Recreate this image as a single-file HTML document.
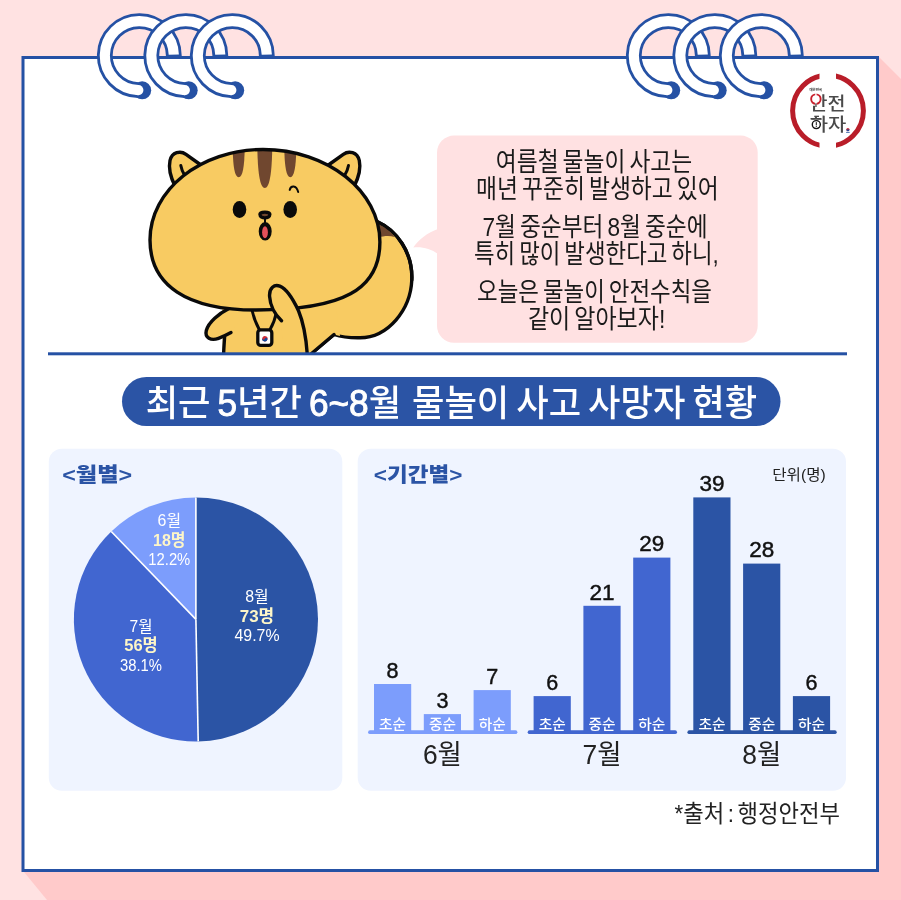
<!DOCTYPE html>
<html lang="ko"><head><meta charset="utf-8"><title>물놀이 안전수칙</title>
<style>
html,body{margin:0;padding:0;background:#ffe2e2;}
body{width:901px;height:900px;overflow:hidden;}
svg{display:block;}
text{font-family:"Liberation Sans","Noto Sans CJK KR","NanumGothic",sans-serif;}
</style></head><body>
<svg width="901" height="900" viewBox="0 0 901 900">
<rect width="901" height="900" fill="#ffe2e2"/>
<polygon points="879,57 901,79 901,900 47,900 24,872" fill="#ffcaca"/>
<rect x="23" y="57.5" width="854.5" height="813" fill="#fff" stroke="#2551a4" stroke-width="3"/>

<path d="M 173.80 57.50 L 173.80 55.60 A 34.5 34.5 0 1 0 138.34 90.09" fill="none" stroke="#2551a4" stroke-width="15.8" stroke-linecap="butt"/><circle cx="142.20" cy="90.30" r="9" fill="#2551a4"/><path d="M 173.80 54.7 A 34.5 34.5 0 1 0 138.34 90.09" fill="none" stroke="#fff" stroke-width="10.2"/><circle cx="138.34" cy="90.09" r="5.1" fill="#fff"/>
<path d="M 220.30 57.50 L 220.30 55.60 A 34.5 34.5 0 1 0 184.84 90.09" fill="none" stroke="#2551a4" stroke-width="15.8" stroke-linecap="butt"/><circle cx="188.70" cy="90.30" r="9" fill="#2551a4"/><path d="M 220.30 54.7 A 34.5 34.5 0 1 0 184.84 90.09" fill="none" stroke="#fff" stroke-width="10.2"/><circle cx="184.84" cy="90.09" r="5.1" fill="#fff"/>
<path d="M 266.80 57.50 L 266.80 55.60 A 34.5 34.5 0 1 0 231.34 90.09" fill="none" stroke="#2551a4" stroke-width="15.8" stroke-linecap="butt"/><circle cx="235.20" cy="90.30" r="9" fill="#2551a4"/><path d="M 266.80 54.7 A 34.5 34.5 0 1 0 231.34 90.09" fill="none" stroke="#fff" stroke-width="10.2"/><circle cx="231.34" cy="90.09" r="5.1" fill="#fff"/>
<path d="M 702.80 57.50 L 702.80 55.60 A 34.5 34.5 0 1 0 667.34 90.09" fill="none" stroke="#2551a4" stroke-width="15.8" stroke-linecap="butt"/><circle cx="671.20" cy="90.30" r="9" fill="#2551a4"/><path d="M 702.80 54.7 A 34.5 34.5 0 1 0 667.34 90.09" fill="none" stroke="#fff" stroke-width="10.2"/><circle cx="667.34" cy="90.09" r="5.1" fill="#fff"/>
<path d="M 749.30 57.50 L 749.30 55.60 A 34.5 34.5 0 1 0 713.84 90.09" fill="none" stroke="#2551a4" stroke-width="15.8" stroke-linecap="butt"/><circle cx="717.70" cy="90.30" r="9" fill="#2551a4"/><path d="M 749.30 54.7 A 34.5 34.5 0 1 0 713.84 90.09" fill="none" stroke="#fff" stroke-width="10.2"/><circle cx="713.84" cy="90.09" r="5.1" fill="#fff"/>
<path d="M 795.80 57.50 L 795.80 55.60 A 34.5 34.5 0 1 0 760.34 90.09" fill="none" stroke="#2551a4" stroke-width="15.8" stroke-linecap="butt"/><circle cx="764.20" cy="90.30" r="9" fill="#2551a4"/><path d="M 795.80 54.7 A 34.5 34.5 0 1 0 760.34 90.09" fill="none" stroke="#fff" stroke-width="10.2"/><circle cx="760.34" cy="90.09" r="5.1" fill="#fff"/>
<g id="logo">
<clipPath id="lgL"><rect x="780" y="60" width="39.5" height="100"/></clipPath><clipPath id="lgR"><rect x="836" y="60" width="44" height="100"/></clipPath>
<circle cx="828" cy="110.7" r="35.4" fill="none" stroke="#b91d29" stroke-width="5" clip-path="url(#lgL)"/>
<circle cx="828" cy="110.7" r="35.4" fill="none" stroke="#b91d29" stroke-width="5" clip-path="url(#lgR)"/>
<text x="815.7" y="91" font-size="3.4" font-weight="700" fill="#222" text-anchor="middle">대한민국</text>
<text x="809.6" y="110.2" font-size="18.5" font-weight="500" fill="#4a4a4a" textLength="36" lengthAdjust="spacingAndGlyphs">안전</text>
<text x="809.8" y="131" font-size="18.5" font-weight="500" fill="#4a4a4a" textLength="36.5" lengthAdjust="spacingAndGlyphs">하자</text>
<circle cx="815.9" cy="99.1" r="6.3" fill="#fff"/>
<clipPath id="mgL"><rect x="808" y="92" width="7.25" height="14"/></clipPath><clipPath id="mgR"><rect x="816.55" y="92" width="8" height="14"/></clipPath>
<circle cx="815.9" cy="99.1" r="4.75" fill="none" stroke="#c8202c" stroke-width="1.9" clip-path="url(#mgL)"/><circle cx="815.9" cy="99.1" r="4.75" fill="none" stroke="#c8202c" stroke-width="1.9" clip-path="url(#mgR)"/>
<rect x="815.3" y="103.5" width="1.3" height="3.5" fill="#4a4a4a"/>
<circle cx="816.3" cy="124.6" r="5.4" fill="#fff"/><circle cx="816.3" cy="124.6" r="4" fill="#fff" stroke="#111" stroke-width="1.4"/><rect x="815.8" y="122.1" width="1" height="3.3" fill="#111"/><rect x="815.8" y="126.1" width="1" height="1" fill="#111"/>
<rect x="811.3" y="118.4" width="10.4" height="1.3" fill="#4a4a4a"/><rect x="814.3" y="115.7" width="4.7" height="1.3" fill="#4a4a4a"/>
<circle cx="847.9" cy="129.6" r="1.6" fill="#c8202c"/><path d="M 846.3 129.6 a 1.6 1.6 0 0 0 3.2 0 z" fill="#1d4a9c"/><rect x="846.1" y="131.9" width="3.6" height="0.8" fill="#1d4a9c"/>
</g>
<defs><clipPath id="sqclip"><rect x="100" y="100" width="340" height="254"/></clipPath>
<clipPath id="headclip"><path d="M 263 149.5 C 327.6 149.5 379.9 191 379.9 242 C 379.9 289.6 342.8 310 256 310 C 187 310 150 285.5 150 240 C 150 190 200.6 149.5 263 149.5 Z"/></clipPath></defs>
<g clip-path="url(#sqclip)" stroke-linecap="round" stroke-linejoin="round">
<path d="M 378 222 C 396 230 413 252 411.8 280 C 410.5 310 388 337.5 360 337.8 C 350 338 340 336.5 334 334.5 L 312 353 L 300 360 L 300 300 Z" fill="#f8cb62" stroke="#0a0a0a" stroke-width="3.4"/>
<path d="M 377 223 C 386 227.5 391.5 232 394.5 237 C 390 235.5 384 235.8 378 237.5 Z" fill="#70472f"/>
<path d="M 378 222 C 396 230 413 252 411.8 280" fill="none" stroke="#0a0a0a" stroke-width="3.4"/>
<path d="M 222 305 L 335 300 L 340 336 L 334 334.5 L 312 353 L 312 360 L 223 360 Z" fill="#f8cb62"/>
<path d="M 334 334.5 L 311 354" fill="none" stroke="#0a0a0a" stroke-width="3.4"/>
<path d="M 232 305 C 220 312 208.5 322 206.3 330.5 C 204.5 338 211 341 218.5 338.3 C 224 336.3 228 334.3 231 332.6 L 240 320 Z" fill="#f8cb62" stroke="none"/>
<path d="M 229 308.5 C 219 313.5 208.5 322 206.3 330.5 C 204.5 338 211 341 218.5 338.3 C 224 336.3 228 334.3 231 332.6" fill="none" stroke="#0a0a0a" stroke-width="3.4"/>
<path d="M 224.6 337 C 224.2 343 223.8 348 223.5 356" fill="none" stroke="#0a0a0a" stroke-width="3.4"/>
<path d="M 252 310 C 253.5 317 256 323.5 259 329 M 276.3 313 C 275 319 273 324.5 270.3 329" fill="none" stroke="#0a0a0a" stroke-width="3"/>
<rect x="257.8" y="329.8" width="14" height="15.6" rx="3" fill="#fff" stroke="#0a0a0a" stroke-width="3.3"/>
<g transform="rotate(20 264.9 338.7)"><circle cx="264.9" cy="338.7" r="2.7" fill="#cd2e3a"/><path d="M 262.2 338.7 a 2.7 2.7 0 0 0 5.4 0 a 1.35 1.35 0 0 0 -2.7 0 a 1.35 1.35 0 0 1 -2.7 0 z" fill="#0f4ea0"/></g>
<path d="M 175 186 C 170.5 177 168.6 167 170 160.5 C 172 152 180.5 150.3 186 154.3 L 203 166.5 L 190 185 Z" fill="#f8cb62" stroke="#0a0a0a" stroke-width="3.4"/>
<path d="M 180.8 165.6 C 181.5 169.5 183 173 184.8 175.6" fill="none" stroke="#0a0a0a" stroke-width="3"/>
<g transform="translate(529.3 0) scale(-1 1)"><path d="M 175 186 C 170.5 177 168.6 167 170 160.5 C 172 152 180.5 150.3 186 154.3 L 203 166.5 L 190 185 Z" fill="#f8cb62" stroke="#0a0a0a" stroke-width="3.4"/><path d="M 180.8 165.6 C 181.5 169.5 183 173 184.8 175.6" fill="none" stroke="#0a0a0a" stroke-width="3"/></g>
<path d="M 263 149.5 C 327.6 149.5 379.9 191 379.9 242 C 379.9 289.6 342.8 310 256 310 C 187 310 150 285.5 150 240 C 150 190 200.6 149.5 263 149.5 Z" fill="#f8cb62"/>
<g clip-path="url(#headclip)">
<path d="M 232.6 140 L 244.8 140 C 244.8 163.2 243.29999999999998 177.2 238.7 177.2 C 234.1 177.2 232.6 163.2 232.6 140 Z" fill="#70472f"/>
<path d="M 257.3 140 L 272.3 140 C 272.3 174 269.40000000000003 188 264.8 188 C 260.2 188 257.3 174 257.3 140 Z" fill="#70472f"/>
<path d="M 284.2 140 L 296.4 140 C 296.4 163.2 294.9 177.2 290.29999999999995 177.2 C 285.69999999999993 177.2 284.2 163.2 284.2 140 Z" fill="#70472f"/>
</g>
<path d="M 263 149.5 C 327.6 149.5 379.9 191 379.9 242 C 379.9 289.6 342.8 310 256 310 C 187 310 150 285.5 150 240 C 150 190 200.6 149.5 263 149.5 Z" fill="none" stroke="#0a0a0a" stroke-width="3.4"/>
<ellipse cx="239.5" cy="209.4" rx="6.8" ry="8.5" fill="#0a0a0a"/><ellipse cx="290.2" cy="209.4" rx="6.8" ry="8.5" fill="#0a0a0a"/>
<path d="M 289.7 189.9 C 290.8 185.3 296.3 184.8 298.2 192" fill="none" stroke="#0a0a0a" stroke-width="2"/>
<path d="M 259.9 214.3 C 259.9 211.4 269.9 211.4 269.9 214.3 C 269.9 216.7 267.3 217.9 264.9 217.9 C 262.5 217.9 259.9 216.7 259.9 214.3 Z" fill="#70472f" stroke="#0a0a0a" stroke-width="3.3"/>
<path d="M 265 218.5 L 265 223" stroke="#0a0a0a" stroke-width="2" fill="none"/>
<ellipse cx="265.2" cy="231.3" rx="5.4" ry="8.2" fill="#0a0a0a" stroke="#0a0a0a" stroke-width="2.2"/>
<ellipse cx="265" cy="232.2" rx="2.9" ry="6" fill="#e4505a"/>
<path d="M 281.5 320.8 C 275.5 315 270.2 306 269.6 296.5 C 269 287.5 274.5 284.2 279.8 286.2 C 286 288.7 293 299 298.6 311 C 304 324 306.5 340 307.5 358 L 283 358 Z" fill="#f8cb62"/>
<path d="M 281.5 320.8 C 275.5 315 270.2 306 269.6 296.5 C 269 287.5 274.5 284.2 279.8 286.2 C 286 288.7 293 299 298.6 311 C 304 324 306.5 340 307.5 358" fill="none" stroke="#0a0a0a" stroke-width="3.4"/>
</g>
<rect x="437" y="135.6" width="320.7" height="207.2" rx="17" fill="#ffe1e2"/>
<path d="M 438 228.9 C 428 232 418 240 413.3 247.6 C 422 246.5 431 249 438 254 Z" fill="#ffe1e2"/>
<text x="594.0" y="170.8" font-size="26" font-weight="400" fill="#1a1a1a" text-anchor="middle" word-spacing="-2.6" textLength="196.4" lengthAdjust="spacingAndGlyphs">여름철 물놀이 사고는</text>
<text x="597.4" y="197.8" font-size="26" font-weight="400" fill="#1a1a1a" text-anchor="middle" word-spacing="-2.6" textLength="242.7" lengthAdjust="spacingAndGlyphs">매년 꾸준히 발생하고 있어</text>
<text x="595.0" y="235.8" font-size="26" font-weight="400" fill="#1a1a1a" text-anchor="middle" word-spacing="-2.6" textLength="225.0" lengthAdjust="spacingAndGlyphs">7월 중순부터 8월 중순에</text>
<text x="596.4" y="262.8" font-size="26" font-weight="400" fill="#1a1a1a" text-anchor="middle" word-spacing="-2.6" textLength="244.8" lengthAdjust="spacingAndGlyphs">특히 많이 발생한다고 하니,</text>
<text x="594.5" y="300.8" font-size="26" font-weight="400" fill="#1a1a1a" text-anchor="middle" word-spacing="-2.6" textLength="235.0" lengthAdjust="spacingAndGlyphs">오늘은 물놀이 안전수칙을</text>
<text x="596.6" y="327.8" font-size="26" font-weight="400" fill="#1a1a1a" text-anchor="middle" word-spacing="-2.6" textLength="137.4" lengthAdjust="spacingAndGlyphs">같이 알아보자!</text>
<rect x="48" y="352.3" width="799" height="3" fill="#2551a4"/>
<rect x="122" y="377" width="658.5" height="49" rx="24.5" fill="#2b54a5"/>
<text x="451.4" y="415.5" font-size="36.5" font-weight="500" fill="#fff" text-anchor="middle" word-spacing="-3" textLength="611.5" lengthAdjust="spacingAndGlyphs">최근 <tspan stroke="#fff" stroke-width="0.9">5</tspan>년간 <tspan stroke="#fff" stroke-width="0.9">6~8</tspan>월 <tspan dx="4">물놀이</tspan> 사고 사망자 현황</text>
<rect x="48.8" y="448.7" width="293.5" height="342" rx="13" fill="#eff4ff"/>
<rect x="357.7" y="448.7" width="488.3" height="342" rx="13" fill="#eff4ff"/>
<text x="62.2" y="482" font-size="20.5" font-weight="900" fill="#2b54a5" textLength="70" lengthAdjust="spacingAndGlyphs">&lt;월별&gt;</text>
<text x="373.8" y="482" font-size="20.5" font-weight="900" fill="#2b54a5" textLength="88.5" lengthAdjust="spacingAndGlyphs">&lt;기간별&gt;</text>
<path d="M 195.9 619.4 L 195.90 497.40 A 122.0 122.0 0 0 1 198.20 741.38 Z" fill="#2b54a5"/>
<path d="M 195.9 619.4 L 198.20 741.38 A 122.0 122.0 0 0 1 111.27 531.52 Z" fill="#4166d0"/>
<path d="M 195.9 619.4 L 111.27 531.52 A 122.0 122.0 0 0 1 195.90 497.40 Z" fill="#7c9dfc"/>
<line x1="195.9" y1="619.4" x2="195.90" y2="497.40" stroke="#fff" stroke-width="1.6"/>
<line x1="195.9" y1="619.4" x2="198.20" y2="741.38" stroke="#fff" stroke-width="1.6"/>
<line x1="195.9" y1="619.4" x2="111.27" y2="531.52" stroke="#fff" stroke-width="1.6"/>
<text x="169.3" y="526.3" font-size="16" font-weight="400" fill="#fff" text-anchor="middle" textLength="23.5" lengthAdjust="spacingAndGlyphs">6월</text><text x="169.3" y="545.9" font-size="17" font-weight="700" fill="#fdf6c8" text-anchor="middle" textLength="32.5" lengthAdjust="spacingAndGlyphs">18명</text><text x="169.3" y="565.3" font-size="16" font-weight="400" fill="#fff" text-anchor="middle" textLength="42" lengthAdjust="spacingAndGlyphs">12.2%</text>
<text x="257" y="602.3" font-size="16" font-weight="400" fill="#fff" text-anchor="middle" textLength="23.5" lengthAdjust="spacingAndGlyphs">8월</text><text x="257" y="621.9" font-size="17" font-weight="700" fill="#fdf6c8" text-anchor="middle" textLength="34.5" lengthAdjust="spacingAndGlyphs">73명</text><text x="257" y="641.3" font-size="16" font-weight="400" fill="#fff" text-anchor="middle" textLength="45" lengthAdjust="spacingAndGlyphs">49.7%</text>
<text x="141" y="631.7" font-size="16" font-weight="400" fill="#fff" text-anchor="middle" textLength="23" lengthAdjust="spacingAndGlyphs">7월</text><text x="141" y="651.3000000000001" font-size="17" font-weight="700" fill="#fdf6c8" text-anchor="middle" textLength="33.5" lengthAdjust="spacingAndGlyphs">56명</text><text x="141" y="670.7" font-size="16" font-weight="400" fill="#fff" text-anchor="middle" textLength="42" lengthAdjust="spacingAndGlyphs">38.1%</text>
<text x="799" y="480" font-size="14.5" font-weight="400" fill="#222" text-anchor="middle" textLength="53.5" lengthAdjust="spacingAndGlyphs">단위(명)</text>
<line x1="370" y1="732.2" x2="515.5" y2="732.2" stroke="#7c9dfc" stroke-width="3.8" stroke-linecap="round"/>
<rect x="374.0" y="684.0" width="37.2" height="48.2" fill="#7c9dfc"/>
<text x="392.6" y="729.3" font-size="14" font-weight="500" fill="#fff" text-anchor="middle" textLength="27" lengthAdjust="spacingAndGlyphs">초순</text>
<text x="392.6" y="677.8" font-size="22" font-weight="500" fill="#111" stroke="#111" stroke-width="0.45" text-anchor="middle" textLength="12" lengthAdjust="spacingAndGlyphs">8</text>
<rect x="423.8" y="714.1" width="37.2" height="18.1" fill="#7c9dfc"/>
<text x="442.4" y="729.3" font-size="14" font-weight="500" fill="#fff" text-anchor="middle" textLength="27" lengthAdjust="spacingAndGlyphs">중순</text>
<text x="442.4" y="707.9" font-size="22" font-weight="500" fill="#111" stroke="#111" stroke-width="0.45" text-anchor="middle" textLength="12" lengthAdjust="spacingAndGlyphs">3</text>
<rect x="473.6" y="690.1" width="37.2" height="42.1" fill="#7c9dfc"/>
<text x="492.2" y="729.3" font-size="14" font-weight="500" fill="#fff" text-anchor="middle" textLength="27" lengthAdjust="spacingAndGlyphs">하순</text>
<text x="492.2" y="683.9" font-size="22" font-weight="500" fill="#111" stroke="#111" stroke-width="0.45" text-anchor="middle" textLength="12" lengthAdjust="spacingAndGlyphs">7</text>
<text x="442.4" y="764.2" font-size="27" font-weight="400" fill="#222" text-anchor="middle" textLength="39" lengthAdjust="spacingAndGlyphs">6월</text>
<line x1="529.6" y1="732.2" x2="675.1" y2="732.2" stroke="#4166d0" stroke-width="3.8" stroke-linecap="round"/>
<rect x="533.6" y="696.1" width="37.2" height="36.1" fill="#4166d0"/>
<text x="552.2" y="729.3" font-size="14" font-weight="500" fill="#fff" text-anchor="middle" textLength="27" lengthAdjust="spacingAndGlyphs">초순</text>
<text x="552.2" y="689.9" font-size="22" font-weight="500" fill="#111" stroke="#111" stroke-width="0.45" text-anchor="middle" textLength="12" lengthAdjust="spacingAndGlyphs">6</text>
<rect x="583.4" y="605.8" width="37.2" height="126.4" fill="#4166d0"/>
<text x="602.0" y="729.3" font-size="14" font-weight="500" fill="#fff" text-anchor="middle" textLength="27" lengthAdjust="spacingAndGlyphs">중순</text>
<text x="602.0" y="599.6" font-size="22" font-weight="500" fill="#111" stroke="#111" stroke-width="0.45" text-anchor="middle" textLength="25" lengthAdjust="spacingAndGlyphs">21</text>
<rect x="633.2" y="557.6" width="37.2" height="174.6" fill="#4166d0"/>
<text x="651.8" y="729.3" font-size="14" font-weight="500" fill="#fff" text-anchor="middle" textLength="27" lengthAdjust="spacingAndGlyphs">하순</text>
<text x="651.8" y="551.4" font-size="22" font-weight="500" fill="#111" stroke="#111" stroke-width="0.45" text-anchor="middle" textLength="25" lengthAdjust="spacingAndGlyphs">29</text>
<text x="602.0" y="764.2" font-size="27" font-weight="400" fill="#222" text-anchor="middle" textLength="39" lengthAdjust="spacingAndGlyphs">7월</text>
<line x1="689.3" y1="732.2" x2="834.8" y2="732.2" stroke="#2b54a5" stroke-width="3.8" stroke-linecap="round"/>
<rect x="693.3" y="497.4" width="37.2" height="234.8" fill="#2b54a5"/>
<text x="711.9" y="729.3" font-size="14" font-weight="500" fill="#fff" text-anchor="middle" textLength="27" lengthAdjust="spacingAndGlyphs">초순</text>
<text x="711.9" y="491.2" font-size="22" font-weight="500" fill="#111" stroke="#111" stroke-width="0.45" text-anchor="middle" textLength="25" lengthAdjust="spacingAndGlyphs">39</text>
<rect x="743.1" y="563.6" width="37.2" height="168.6" fill="#2b54a5"/>
<text x="761.7" y="729.3" font-size="14" font-weight="500" fill="#fff" text-anchor="middle" textLength="27" lengthAdjust="spacingAndGlyphs">중순</text>
<text x="761.7" y="557.4" font-size="22" font-weight="500" fill="#111" stroke="#111" stroke-width="0.45" text-anchor="middle" textLength="25" lengthAdjust="spacingAndGlyphs">28</text>
<rect x="792.9" y="696.1" width="37.2" height="36.1" fill="#2b54a5"/>
<text x="811.5" y="729.3" font-size="14" font-weight="500" fill="#fff" text-anchor="middle" textLength="27" lengthAdjust="spacingAndGlyphs">하순</text>
<text x="811.5" y="689.9" font-size="22" font-weight="500" fill="#111" stroke="#111" stroke-width="0.45" text-anchor="middle" textLength="12" lengthAdjust="spacingAndGlyphs">6</text>
<text x="761.7" y="764.2" font-size="27" font-weight="400" fill="#222" text-anchor="middle" textLength="39" lengthAdjust="spacingAndGlyphs">8월</text>
<text x="840" y="821.5" font-size="23.5" font-weight="400" fill="#222" text-anchor="end" word-spacing="-2.7" textLength="165.5" lengthAdjust="spacingAndGlyphs">*출처 : 행정안전부</text>
</svg></body></html>
